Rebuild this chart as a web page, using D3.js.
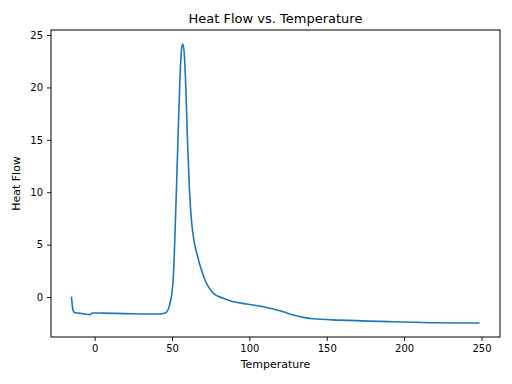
<!DOCTYPE html>
<html>
<head>
<meta charset="utf-8">
<script src="https://cdn.jsdelivr.net/npm/d3@7"></script>
<style>
  body { margin: 0; background: #fff; }
  text { font-family: "DejaVu Sans", sans-serif; fill: #000; }
</style>
</head>
<body>
<div id="chart"></div>
<script>
// values
const temperature = [-15.0, -14.7, -14.0, -13.2, -12.3, -8, -2.8, -1.8, -1, 5, 20, 35, 42.4, 45, 46.7, 48, 49, 50, 51, 52.1, 53.2, 54.2, 55.3, 56.4, 57, 57.9, 59, 60, 61.3, 62.6, 64.2, 66.5, 69, 71.4, 76.8, 83.2, 87.6, 98.3, 109, 119.8, 128.4, 134.9, 141.3, 158.6, 193, 221, 248.8];
const heatFlow = [0.05, -0.4, -1.24, -1.45, -1.5, -1.58, -1.66, -1.55, -1.52, -1.53, -1.58, -1.62, -1.62, -1.55, -1.4, -1.0, -0.4, 0.4, 2.3, 6.7, 11.8, 16.6, 21.4, 23.9, 24.15, 23.3, 19.75, 15, 10.2, 7.3, 5.4, 3.9, 2.6, 1.6, 0.35, -0.12, -0.35, -0.67, -0.92, -1.3, -1.72, -1.94, -2.07, -2.2, -2.35, -2.45, -2.48];
const xTicks = [0, 50, 100, 150, 200, 250];
const yTicks = [0, 5, 10, 15, 20, 25];

const width = 512, height = 384;
const margin = { top: 30, right: 12, bottom: 47, left: 51 };

const points = temperature.map((t, i) => ({ t, h: heatFlow[i] }));

// matplotlib style 5% padding
const xExt = d3.extent(temperature), yExt = d3.extent(heatFlow);
const xPad = (xExt[1] - xExt[0]) * 0.05, yPad = (yExt[1] - yExt[0]) * 0.05;

const x = d3.scaleLinear()
  .domain([xExt[0] - xPad, xExt[1] + xPad])
  .range([margin.left, width - margin.right]);
const y = d3.scaleLinear()
  .domain([yExt[0] - yPad, yExt[1] + yPad])
  .range([height - margin.bottom, margin.top]);

const svg = d3.select("#chart")
  .append("svg")
  .attr("width", width)
  .attr("height", height);

svg.append("path")
  .datum(points)
  .attr("fill", "none")
  .attr("stroke", "#1f77b4")
  .attr("stroke-width", 1.6)
  .attr("stroke-linejoin", "round")
  .attr("d", d3.line().x(d => x(d.t)).y(d => y(d.h)).curve(d3.curveMonotoneX));

const xAxis = svg.append("g")
  .attr("transform", `translate(0,${height - margin.bottom})`)
  .call(d3.axisBottom(x).tickValues(xTicks).tickSize(4).tickPadding(4));
const yAxis = svg.append("g")
  .attr("transform", `translate(${margin.left},0)`)
  .call(d3.axisLeft(y).tickValues(yTicks).tickSize(4).tickPadding(4));

[xAxis, yAxis].forEach(g => {
  g.select(".domain").remove();
  g.selectAll("text").style("font-size", "10px").style("font-family", "DejaVu Sans");
  g.selectAll("line").attr("stroke", "#000").attr("stroke-width", 0.9);
});

// frame
svg.append("rect")
  .attr("x", margin.left)
  .attr("y", margin.top)
  .attr("width", width - margin.left - margin.right)
  .attr("height", height - margin.top - margin.bottom)
  .attr("fill", "none")
  .attr("stroke", "#000")
  .attr("stroke-width", 1);

svg.append("text")
  .attr("x", (margin.left + width - margin.right) / 2)
  .attr("y", 23)
  .attr("text-anchor", "middle")
  .style("font-size", "13px")
  .text("Heat Flow vs. Temperature");

svg.append("text")
  .attr("x", (margin.left + width - margin.right) / 2)
  .attr("y", 368)
  .attr("text-anchor", "middle")
  .style("font-size", "11px")
  .text("Temperature");

svg.append("text")
  .attr("transform", `translate(20,${(margin.top + height - margin.bottom) / 2}) rotate(-90)`)
  .attr("text-anchor", "middle")
  .style("font-size", "11px")
  .text("Heat Flow");
</script>
</body>
</html>
